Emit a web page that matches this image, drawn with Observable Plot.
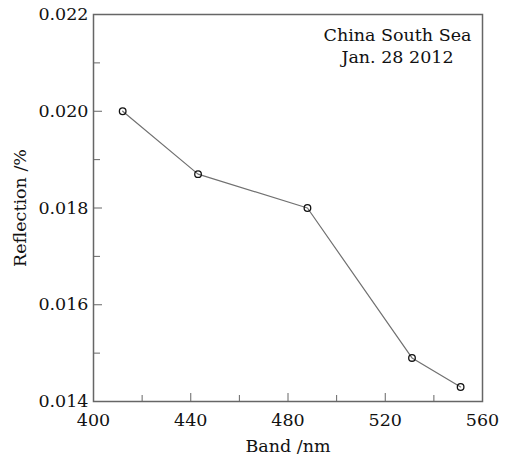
<!DOCTYPE html>
<html><head><meta charset="utf-8">
<script src="https://cdn.jsdelivr.net/npm/d3@7"></script>
<script src="https://cdn.jsdelivr.net/npm/@observablehq/plot@0.6"></script>
<style>body{margin:0;background:#fff}</style>
</head><body><div id="chart"></div>
<script>
const bands = [412, 443, 488, 531, 551];
const reflection = [0.0200, 0.0187, 0.0180, 0.0149, 0.0143];
const xTicks = [400, 440, 480, 520, 560];
const xMinor = [420, 460, 500, 540];
const yTicks = [0.014, 0.016, 0.018, 0.020, 0.022];
const yMinor = [0.015, 0.017, 0.019, 0.021];
const titleLines = ["China South Sea\nJan. 28 2012"];

const data = bands.map((b, i) => ({band: b, refl: reflection[i]}));
const font = "DejaVu Serif";
const axisColor = "#666";

const chart = Plot.plot({
  width: 516, height: 455,
  marginLeft: 93, marginRight: 34, marginTop: 14, marginBottom: 54,
  style: {fontFamily: font, fontSize: "17.5px", color: "#111", background: "#fff"},
  x: {domain: [400, 560]},
  y: {domain: [0.014, 0.022]},
  marks: [
    Plot.frame({stroke: axisColor, strokeWidth: 1.5}),
    Plot.axisX(xTicks, {tickSize: -8, tickPadding: 20, stroke: axisColor, fill: "#111", tickFormat: d => d, label: "Band /nm", labelAnchor: "center", labelArrow: "none", labelOffset: 50, fontSize: 17.5}),
    Plot.axisX(xMinor, {tickSize: -6, text: null, stroke: axisColor, label: null}),
    Plot.axisY(yTicks, {tickSize: -9, tickPadding: 14, stroke: axisColor, fill: "#111", tickFormat: d3.format(".3f"), label: "Reflection /%", labelAnchor: "center", labelArrow: "none", labelOffset: 80, fontSize: 17.5}),
    Plot.axisY(yMinor, {tickSize: -7, text: null, stroke: axisColor, label: null}),
    Plot.line(data, {x: "band", y: "refl", stroke: "#707070", strokeWidth: 1.2}),
    Plot.dot(data, {x: "band", y: "refl", r: 3.3, stroke: "#111", strokeWidth: 1.3, fill: "none"}),
    Plot.text(titleLines, {frameAnchor: "top-right", dx: -85, dy: 11, textAnchor: "middle", lineAnchor: "top", fontSize: 17.5, fill: "#111", lineHeight: 1.25})
  ]
});
document.getElementById("chart").appendChild(chart);
</script></body></html>
